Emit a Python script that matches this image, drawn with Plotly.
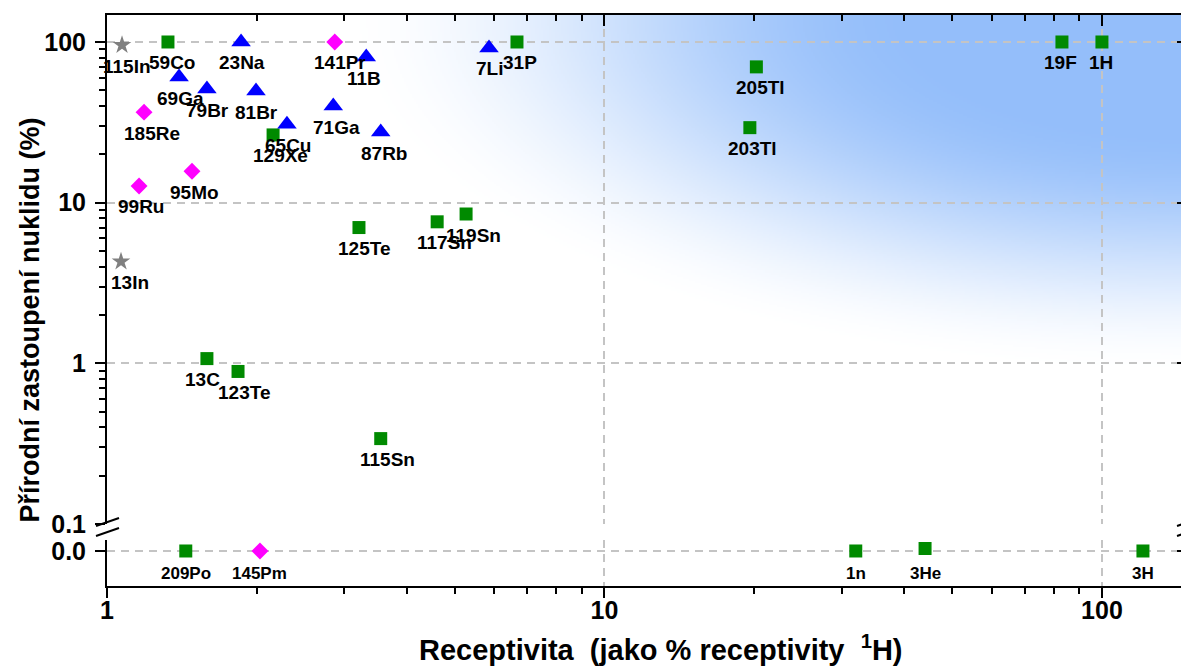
import base64, struct, zlib
import numpy as np
import plotly.graph_objects as go

# ---------------- data ----------------
star_names = ["115In", "13In"]
star_x = [1.072, 1.067]
star_y = [95.7, 4.3]

sq_names = ["59Co", "129Xe", "125Te", "117Sn", "119Sn", "13C", "123Te", "115Sn",
            "31P", "205Tl", "203Tl", "19F", "1H"]
sq_x = [1.326, 2.157, 3.21, 4.61, 5.27, 1.588, 1.834, 3.55, 6.67, 20.2, 19.6, 83.1, 100.0]
sq_y = [100.0, 26.4, 7.0, 7.6, 8.5, 1.07, 0.89, 0.34, 100.0, 70.0, 29.3, 100.0, 100.0]

tri_names = ["23Na", "69Ga", "79Br", "81Br", "11B", "71Ga", "65Cu", "87Rb", "7Li"]
tri_x = [1.86, 1.396, 1.588, 1.993, 3.32, 2.85, 2.30, 3.55, 5.86]
tri_y = [100.0, 60.5, 50.9, 49.5, 80.6, 39.9, 30.8, 27.5, 91.8]

dia_names = ["141Pr", "185Re", "95Mo", "99Ru"]
dia_x = [2.87, 1.187, 1.482, 1.16]
dia_y = [100.0, 36.6, 15.7, 12.7]

zero_sq_names = ["209Po", "1n", "3He", "3H"]
zero_sq_x = [1.44, 32.0, 44.1, 120.9]
zero_sq_y = [0.0, 0.0, 0.0025, 0.0]

zero_dia_names = ["145Pm"]
zero_dia_x = [2.03]
zero_dia_y = [0.0]

x_ticks = [1, 10, 100]
x_tick_text = ["1", "10", "100"]
y_ticks = [0.1, 1, 10, 100]
y_tick_text = ["0.1", "1", "10", "100"]

# label nudges (px): dx right
label_dx = {"115In": 5, "59Co": 4, "23Na": 1, "141Pr": 5, "11B": -2, "69Ga": 1, "79Br": 1,
            "81Br": 0, "185Re": 8, "71Ga": 3, "65Cu": 1, "129Xe": 7, "87Rb": 3, "95Mo": 3,
            "99Ru": 2, "125Te": 5, "117Sn": 7, "119Sn": 7, "13In": 9, "13C": -4, "123Te": 6,
            "115Sn": 7, "7Li": 0, "31P": 3, "205Tl": 4, "203Tl": 3, "19F": -1, "1H": -1}

# ---------------- styling ----------------
FONT = "Liberation Sans, Arial, sans-serif"
GREEN = "#008a00"
BLUE = "#0000ff"
MAGENTA = "#ff00ff"
GRAY = "#808080"
GRID = "#c4c4c4"

XMAX = 2.173
YMIN, YMAX = -1.0, 2.168
LOW_RANGE = [-0.035, 0.011]
UP_DOM = [0.1086, 1.0]
LOW_DOM = [0.0, 0.0806]

x_minor = [m * d for d in (1, 10) for m in range(2, 10)]
y_minor = [m * d for d in (0.1, 1, 10) for m in range(2, 10)]

# ---------------- background gradient ----------------
W, H = 540, 254
pw, ph = 1081.0, 509.0
px = (np.arange(W) + 0.5) / W * pw
py = (np.arange(H) + 0.5) / H * ph
PX, PY = np.meshgrid(px, py)
d = np.sqrt(((pw - PX) / 850.0) ** 2 + (PY / 360.0) ** 2)
t = np.clip((1.0 - d) / 0.68, 0, 1)
t = t * t * (3 - 2 * t)
blue = np.array([148, 190, 250], dtype=float)
rgb = (255.0 + t[..., None] * (blue - 255.0)).round().astype(np.uint8)


def make_png(arr):
    h, w, _ = arr.shape
    raw = b"".join(b"\x00" + arr[i].tobytes() for i in range(h))

    def chunk(tag, data):
        c = struct.pack(">I", len(data)) + tag + data
        return c + struct.pack(">I", zlib.crc32(tag + data) & 0xFFFFFFFF)

    return (b"\x89PNG\r\n\x1a\n"
            + chunk(b"IHDR", struct.pack(">IIBBBBB", w, h, 8, 2, 0, 0, 0))
            + chunk(b"IDAT", zlib.compress(raw, 9))
            + chunk(b"IEND", b""))


img_src = "data:image/png;base64," + base64.b64encode(make_png(rgb)).decode()

# ---------------- figure ----------------
fig = go.Figure()


def add(xs, ys, symbol, color, size, yaxis):
    fig.add_trace(go.Scatter(x=xs, y=ys, mode="markers", xaxis="x", yaxis=yaxis,
                             marker=dict(symbol=symbol, color=color, size=size, line=dict(width=0)),
                             hoverinfo="skip", showlegend=False, cliponaxis=False))


add(star_x, star_y, "star", GRAY, 14, "y")
add(sq_x, sq_y, "square", GREEN, 13, "y")
add(tri_x, tri_y, "triangle-up", BLUE, 17, "y")
add(dia_x, dia_y, "diamond", MAGENTA, 13, "y")
add(zero_sq_x, zero_sq_y, "square", GREEN, 13, "y2")
add(zero_dia_x, zero_dia_y, "diamond", MAGENTA, 13, "y2")

# empty traces to instantiate mirror axes
fig.add_trace(go.Scatter(x=[None], y=[None], xaxis="x2", yaxis="y", showlegend=False, hoverinfo="skip"))
fig.add_trace(go.Scatter(x=[None], y=[None], xaxis="x", yaxis="y3", showlegend=False, hoverinfo="skip"))
fig.add_trace(go.Scatter(x=[None], y=[None], xaxis="x", yaxis="y4", showlegend=False, hoverinfo="skip"))

annotations = []
for names, xs, ys in [(star_names, star_x, star_y), (sq_names, sq_x, sq_y),
                      (tri_names, tri_x, tri_y), (dia_names, dia_x, dia_y)]:
    for n, xv, yv in zip(names, xs, ys):
        annotations.append(dict(x=np.log10(xv), y=np.log10(yv), xref="x", yref="y", text=n,
                                showarrow=False, xanchor="center", yanchor="middle",
                                xshift=label_dx.get(n, 0), yshift=-21,
                                font=dict(family=FONT, size=19, color="black", weight="bold")))
for names, xs, ys in [(zero_sq_names, zero_sq_x, zero_sq_y), (zero_dia_names, zero_dia_x, zero_dia_y)]:
    for n, xv, yv in zip(names, xs, ys):
        annotations.append(dict(x=np.log10(xv), y=0, xref="x", yref="y2", text=n,
                                showarrow=False, xanchor="center", yanchor="middle",
                                xshift=0, yshift=-23,
                                font=dict(family=FONT, size=17, color="black", weight="bold")))

annotations.append(dict(xref="paper", yref="paper", x=-0.0712, y=0.465, textangle=-90,
                        text="Přírodní zastoupení nuklidu (%)", showarrow=False,
                        xanchor="center", yanchor="middle",
                        font=dict(family=FONT, size=27, color="black", weight="bold")))
annotations.append(dict(xref="paper", yref="paper", x=0.5125, y=-0.1086,
                        text="Receptivita\u00a0\u00a0(jako % receptivity\u00a0\u00a0<sup>1</sup>H)",
                        showarrow=False, xanchor="center", yanchor="middle",
                        font=dict(family=FONT, size=29, color="black", weight="bold")))

tickfont = dict(family=FONT, size=25, color="black", weight="bold")
common_line = dict(showline=True, linecolor="black", linewidth=2, zeroline=False)

fig.update_layout(
    width=1181, height=658,
    margin=dict(l=99, r=1, t=7, b=80),
    paper_bgcolor="white", plot_bgcolor="rgba(0,0,0,0)",
    showlegend=False,
    annotations=annotations,
    images=[dict(source=img_src, xref="paper", yref="paper", x=0, y=1, sizex=1,
                 sizey=UP_DOM[1] - UP_DOM[0], xanchor="left", yanchor="top",
                 sizing="stretch", layer="below")],
    xaxis=dict(type="log", range=[0, XMAX], domain=[0, 1], anchor="y2", side="bottom",
               tickmode="array", tickvals=x_ticks, ticktext=x_tick_text,
               ticks="outside", ticklen=10, tickwidth=2, tickcolor="black", tickfont=tickfont,
               ticklabelstandoff=-9,
               minor=dict(tickmode="array", tickvals=x_minor, ticks="outside", ticklen=6,
                          tickwidth=2, tickcolor="black", showgrid=False),
               showgrid=True, gridcolor=GRID, griddash="8px,6px", gridwidth=1.5,
               **common_line),
    xaxis2=dict(type="log", range=[0, XMAX], overlaying="x", anchor="y", side="top",
                tickmode="array", tickvals=x_ticks, showticklabels=False,
                ticks="inside", ticklen=11, tickwidth=2, tickcolor="black",
                minor=dict(tickmode="array", tickvals=x_minor, ticks="inside", ticklen=6,
                           tickwidth=2, tickcolor="black", showgrid=False),
                showgrid=False, **common_line),
    yaxis=dict(type="log", range=[YMIN, YMAX], domain=UP_DOM, anchor="x",
               tickmode="array", tickvals=y_ticks, ticktext=y_tick_text,
               ticks="outside", ticklen=10, tickwidth=2, tickcolor="black", tickfont=tickfont,
               ticklabelstandoff=4,
               minor=dict(tickmode="array", tickvals=y_minor, ticks="outside", ticklen=6,
                          tickwidth=2, tickcolor="black", showgrid=False),
               showgrid=True, gridcolor=GRID, griddash="8px,6px", gridwidth=1.5,
               **common_line),
    yaxis3=dict(type="log", range=[YMIN, YMAX], overlaying="y", anchor="x", side="right",
                tickmode="array", tickvals=y_ticks, showticklabels=False,
                ticks="inside", ticklen=11, tickwidth=2, tickcolor="black",
                minor=dict(tickmode="array", tickvals=y_minor, ticks="inside", ticklen=6,
                           tickwidth=2, tickcolor="black", showgrid=False),
                showgrid=False, **common_line),
    yaxis2=dict(type="linear", range=LOW_RANGE, domain=LOW_DOM, anchor="x",
                tickmode="array", tickvals=[0], ticktext=["0.0"],
                ticks="outside", ticklen=10, tickwidth=2, tickcolor="black", tickfont=tickfont,
                ticklabelstandoff=4,
                showgrid=True, gridcolor=GRID, griddash="8px,6px", gridwidth=1.5,
                **common_line),
    yaxis4=dict(type="linear", range=LOW_RANGE, overlaying="y2", anchor="x", side="right",
                tickmode="array", tickvals=[0], showticklabels=False,
                ticks="inside", ticklen=11, tickwidth=2, tickcolor="black",
                showgrid=False, **common_line),
)

# axis break marks
low_top = LOW_DOM[1]
shapes = []
for xa in (0, 1):
    for yoff in (8, 18):
        shapes.append(dict(type="line", xref="paper", yref="paper", xsizemode="pixel",
                           ysizemode="pixel", xanchor=xa, yanchor=low_top,
                           x0=-11, x1=12, y0=yoff - 4, y1=yoff + 4,
                           line=dict(color="black", width=2)))
fig.update_layout(shapes=shapes)

fig.write_html("out.html")
